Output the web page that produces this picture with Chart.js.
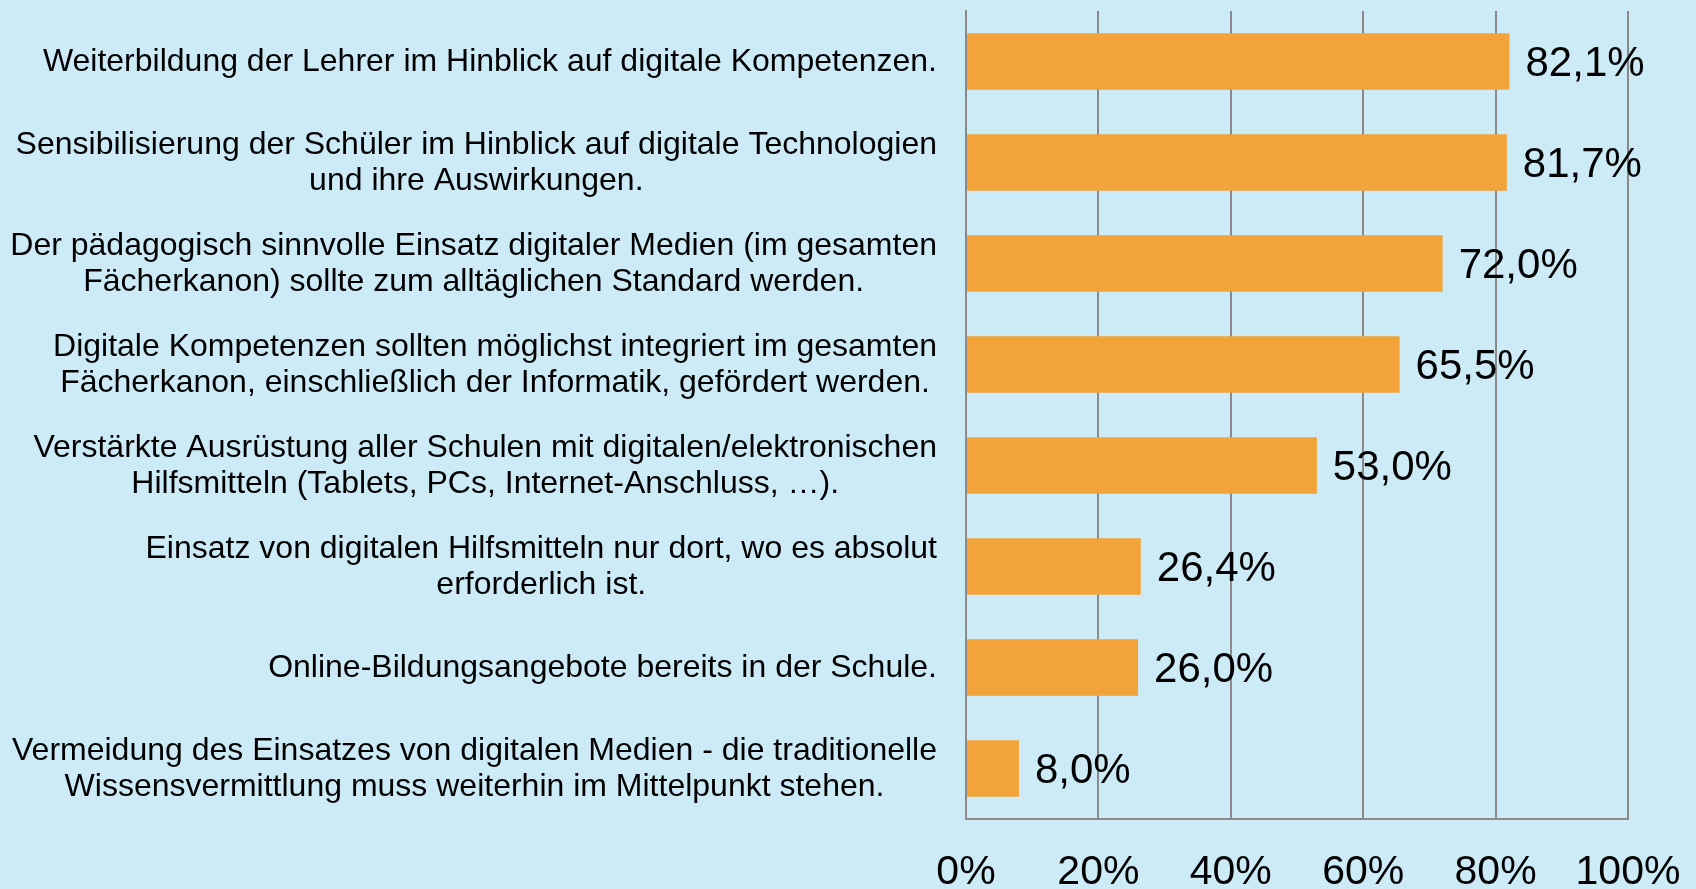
<!DOCTYPE html>
<html>
<head>
<meta charset="utf-8">
<script src="https://cdn.jsdelivr.net/npm/chart.js@4.4.1/dist/chart.umd.min.js"></script>
<style>
  html, body { margin: 0; padding: 0; background: #CCEBF6; overflow: hidden; }
  #wrap { width: 1696px; height: 889px; }
  canvas { display: block; }
</style>
</head>
<body>
<div id="wrap"><canvas id="bar-chart-canvas"></canvas></div>
<script>
var categories = [
  ['Weiterbildung der Lehrer im Hinblick auf digitale Kompetenzen.'],
  ['Sensibilisierung der Schüler im Hinblick auf digitale Technologien', 'und ihre Auswirkungen.'],
  ['Der pädagogisch sinnvolle Einsatz digitaler Medien (im gesamten', 'Fächerkanon) sollte zum alltäglichen Standard werden.'],
  ['Digitale Kompetenzen sollten möglichst integriert im gesamten', 'Fächerkanon, einschließlich der Informatik, gefördert werden.'],
  ['Verstärkte Ausrüstung aller Schulen mit digitalen/elektronischen', 'Hilfsmitteln (Tablets, PCs, Internet-Anschluss, …).'],
  ['Einsatz von digitalen Hilfsmitteln nur dort, wo es absolut', 'erforderlich ist.'],
  ['Online-Bildungsangebote bereits in der Schule.'],
  ['Vermeidung des Einsatzes von digitalen Medien - die traditionelle', 'Wissensvermittlung muss weiterhin im Mittelpunkt stehen.']
]
var values = [82.1, 81.7, 72.0, 65.5, 53.0, 26.4, 26.0, 8.0]
var xTicks = [0, 20, 40, 60, 80, 100]

var fontFamily = '"Liberation Sans", Arial, sans-serif'
var gridColor = '#8a8a8a'

function pct(v) {
  return v.toFixed(1).replace('.', ',') + '%'
}

// category labels: block right aligned, lines centered inside the block
var categoryLabels = {
  id: 'categoryLabels',
  afterDraw: function (chart) {
    var ctx = chart.ctx
    var yScale = chart.scales.y
    var right = chart.chartArea.left - 29
    var lineHeight = 35.7
    ctx.save()
    ctx.font = '32px ' + fontFamily
    ctx.fillStyle = '#000'
    ctx.textAlign = 'center'
    ctx.textBaseline = 'middle'
    categories.forEach(function (lines, i) {
      var w = 0
      lines.forEach(function (l) { w = Math.max(w, ctx.measureText(l).width) })
      var cx = right - w / 2
      var cy = yScale.getPixelForValue(i)
      var y0 = cy - (lines.length - 1) * lineHeight / 2
      lines.forEach(function (l, k) {
        ctx.fillText(l, cx, y0 + k * lineHeight + 1)
      })
    })
    ctx.restore()
  }
}

// value labels at the end of each bar
var valueLabels = {
  id: 'valueLabels',
  afterDatasetsDraw: function (chart) {
    var ctx = chart.ctx
    var meta = chart.getDatasetMeta(0)
    ctx.save()
    ctx.font = '42px ' + fontFamily
    ctx.fillStyle = '#000'
    ctx.textAlign = 'left'
    ctx.textBaseline = 'middle'
    meta.data.forEach(function (bar, i) {
      ctx.fillText(pct(values[i]), bar.x + 16, bar.y + 3)
    })
    ctx.restore()
  }
}

var barChartCanvas = document.getElementById('bar-chart-canvas').getContext('2d')
var barChart = new Chart(barChartCanvas, {
  type: 'bar',
  data: {
    labels: categories,
    datasets: [
      {
        label: 'Anteil',
        backgroundColor: '#F2A43A',
        borderWidth: 0,
        data: values,
        barPercentage: 0.56,
        categoryPercentage: 1.0
      }
    ]
  },
  plugins: [categoryLabels, valueLabels],
  options: {
    indexAxis: 'y',
    responsive: true,
    maintainAspectRatio: false,
    animation: false,
    layout: {
      padding: { top: 11, right: 68, left: 0, bottom: 0 }
    },
    plugins: {
      legend: { display: false },
      tooltip: { enabled: false }
    },
    scales: {
      x: {
        min: 0,
        max: 100,
        afterBuildTicks: function (scale) {
          scale.ticks = xTicks.map(function (v) { return { value: v } })
        },
        afterFit: function (scale) {
          scale.height = 70
          scale.paddingLeft = 0
          scale.paddingRight = 0
        },
        grid: {
          color: gridColor,
          lineWidth: 2,
          drawTicks: false
        },
        border: { display: true, color: gridColor, width: 2 },
        ticks: {
          padding: 29,
          color: '#000',
          font: { family: fontFamily, size: 41 },
          maxRotation: 0,
          callback: function (v) { return v + '%' }
        }
      },
      y: {
        afterFit: function (scale) {
          scale.width = 966
        },
        grid: { display: false, drawTicks: false },
        border: { display: true, color: gridColor, width: 2 },
        ticks: { display: false }
      }
    }
  }
})
</script>
</body>
</html>
